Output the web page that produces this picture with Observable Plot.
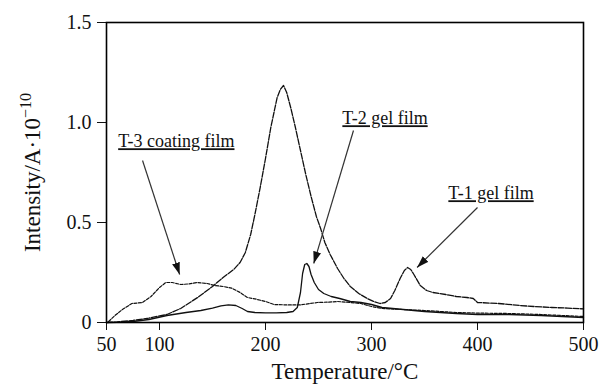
<!DOCTYPE html>
<html><head><meta charset="utf-8">
<script src="https://cdn.jsdelivr.net/npm/d3@7"></script>
<script src="https://cdn.jsdelivr.net/npm/@observablehq/plot@0.6"></script>
<style>body{margin:0;background:#fff}</style>
</head><body><div id="chart"></div>
<script>
// T-1 gel film (large peak ~217 °C, secondary ~334 °C)
const t1Temp = [50, 60, 75, 90, 107, 120, 136, 150, 160, 170, 176, 181, 186, 190, 195, 200, 205, 208, 211, 214, 217, 220, 224, 228, 233, 238, 243, 248, 252, 256, 261, 268, 274, 280, 288, 296, 302, 308, 313, 318, 322, 327, 331, 334, 337, 340, 346, 352, 358, 370, 380, 390, 396, 400, 420, 440, 453, 470, 485, 500];
const t1Int  = [0, 0.003, 0.01, 0.022, 0.04, 0.07, 0.125, 0.18, 0.225, 0.265, 0.3, 0.35, 0.44, 0.54, 0.675, 0.82, 0.975, 1.05, 1.125, 1.165, 1.185, 1.15, 1.07, 0.98, 0.86, 0.74, 0.63, 0.53, 0.47, 0.40, 0.34, 0.27, 0.22, 0.18, 0.145, 0.12, 0.105, 0.095, 0.1, 0.12, 0.16, 0.22, 0.26, 0.275, 0.265, 0.24, 0.185, 0.16, 0.15, 0.14, 0.13, 0.125, 0.12, 0.1, 0.095, 0.085, 0.08, 0.075, 0.072, 0.068];
// T-2 gel film (sharp peak ~239 °C)
const t2Temp = [50, 60, 75, 90, 107, 125, 139, 150, 158, 165, 172, 178, 183, 190, 200, 210, 220, 226, 230, 233, 235, 237, 239, 241, 243, 246, 250, 255, 262, 270, 280, 290, 300, 310, 330, 350, 380, 400, 430, 460, 480, 500];
const t2Int  = [0, 0.001, 0.005, 0.015, 0.035, 0.05, 0.06, 0.072, 0.083, 0.088, 0.085, 0.07, 0.055, 0.05, 0.048, 0.048, 0.05, 0.055, 0.075, 0.15, 0.245, 0.29, 0.295, 0.28, 0.24, 0.2, 0.165, 0.145, 0.13, 0.12, 0.105, 0.1, 0.09, 0.075, 0.065, 0.055, 0.045, 0.04, 0.04, 0.035, 0.03, 0.025];
// T-3 coating film (broad hump ~105-140 °C)
const t3Temp = [52, 58, 65, 74, 84, 92, 100, 106, 112, 120, 128, 136, 145, 152, 160, 168, 176, 183, 190, 200, 208, 220, 233, 242, 249, 260, 268, 280, 290, 300, 310, 330, 350, 380, 400, 430, 460, 480, 500];
const t3Int  = [0.005, 0.035, 0.065, 0.095, 0.1, 0.13, 0.175, 0.2, 0.2, 0.19, 0.193, 0.2, 0.195, 0.185, 0.18, 0.172, 0.15, 0.125, 0.118, 0.105, 0.09, 0.088, 0.088, 0.095, 0.1, 0.102, 0.105, 0.1, 0.095, 0.08, 0.07, 0.065, 0.06, 0.05, 0.047, 0.045, 0.04, 0.035, 0.03];

const xTicks = [50, 100, 200, 300, 400, 500];
const yTicks = [0, 0.5, 1.0, 1.5];

const labelNames = ["T-3 coating film", "T-2 gel film", "T-1 gel film"];
const labelTemp  = [61, 272.5, 372.5];
const labelInt   = [0.905, 1.02, 0.645];
const arrowFromT = [84, 283, 400];
const arrowFromI = [0.81, 0.96, 0.575];
const arrowToT   = [119, 245.5, 343];
const arrowToI   = [0.24, 0.295, 0.275];

const rows = (T, I) => T.map((t, i) => ({T: t, v: I[i]}));
const s1 = rows(t1Temp, t1Int), s2 = rows(t2Temp, t2Int), s3 = rows(t3Temp, t3Int);
const labels = labelNames.map((n, i) => ({name: n, T: labelTemp[i], v: labelInt[i]}));
const arrows = labelNames.map((n, i) => ({x1: arrowFromT[i], y1: arrowFromI[i], x2: arrowToT[i], y2: arrowToI[i]}));

const serif = "'Liberation Serif','Times New Roman',Times,serif";
const plot = Plot.plot({
  width: 601, height: 385,
  marginLeft: 106, marginRight: 18, marginTop: 22, marginBottom: 63,
  style: {fontFamily: serif, fontSize: "20px", color: "#111", background: "#fff"},
  x: {domain: [50, 500], ticks: xTicks, tickSize: 8, tickPadding: 6, label: null},
  y: {domain: [0, 1.5], ticks: yTicks, tickSize: 9, tickPadding: 6, label: null,
      tickFormat: d => d === 0 ? "0" : d.toFixed(1)},
  marks: [
    Plot.line(s1, {x: "T", y: "v", stroke: "#111", strokeWidth: 1.3, strokeDasharray: "6,1.5"}),
    Plot.line(s2, {x: "T", y: "v", stroke: "#111", strokeWidth: 1.3}),
    Plot.line(s3, {x: "T", y: "v", stroke: "#111", strokeWidth: 1.2, strokeDasharray: "3,1.5"}),
    Plot.link(arrows, {x1: "x1", y1: "y1", x2: "x2", y2: "y2", stroke: "#333", strokeWidth: 1.2}),
    Plot.text(labels, {x: "T", y: "v", text: "name", textAnchor: "start", fontSize: 18, fill: "#111"}),
    Plot.text(["Temperature/°C"], {frameAnchor: "bottom", lineAnchor: "bottom", dy: 56, fontSize: 23, text: d => d, fill: "#111"}),
    Plot.text(["Intensity/A·10"], {frameAnchor: "left", textAnchor: "middle", lineAnchor: "middle", dx: -74, rotate: -90, fontSize: 23, text: d => d, fill: "#111"}),
    Plot.frame({stroke: "#000", strokeWidth: 1.6})
  ]
});
document.getElementById("chart").appendChild(plot);

// filled arrowheads for the annotation links
const svg = d3.select(plot);
const defs = svg.insert("defs", ":first-child");
defs.append("marker")
  .attr("id", "ah").attr("viewBox", "0 0 10 10").attr("refX", 10).attr("refY", 5)
  .attr("markerWidth", 12).attr("markerHeight", 8).attr("markerUnits", "userSpaceOnUse")
  .attr("orient", "auto").attr("preserveAspectRatio", "none")
  .append("path").attr("d", "M0,0L10,5L0,10z").attr("fill", "#111");
svg.selectAll('g[aria-label="link"] path').attr("marker-end", "url(#ah)");

// underline annotation labels; superscript on y title
svg.selectAll("text").each(function() {
  const t = d3.select(this);
  const s = t.text();
  if (labelNames.includes(s)) t.style("text-decoration", "underline");
  if (s === "Intensity/A·10") {
    t.append("tspan").attr("dy", "-0.55em").attr("font-size", 16).text("−10");
  }
});
</script>
</body></html>
